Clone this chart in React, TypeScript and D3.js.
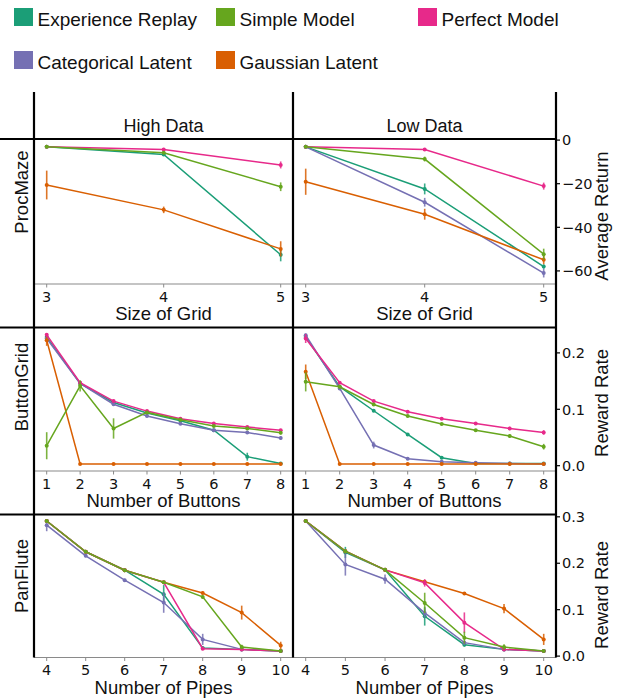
import React from "react";
import * as d3 from "d3";

// Methods (hue order) and their colours
const methods = ["Experience Replay", "Categorical Latent", "Gaussian Latent", "Perfect Model", "Simple Model"];
const methodColors = ["#1b9e77", "#7570b3", "#d95f02", "#e7298a", "#66a61e"];

// Legend layout order (two rows)
const legendRows = [
  ["Experience Replay", "Simple Model", "Perfect Model"],
  ["Categorical Latent", "Gaussian Latent"],
];

// x categories per environment
const gridSizes = [3, 4, 5];
const buttonCounts = [1, 2, 3, 4, 5, 6, 7, 8];
const pipeCounts = [4, 5, 6, 7, 8, 9, 10];

// Tick labels on the right-hand axes
const returnTicks = [0, -20, -40, -60];
const buttonRateTicks = [0, 0.1, 0.2];
const pipeRateTicks = [0, 0.1, 0.2, 0.3];

type Series = { method: string; mean: number[]; err: number[] } | null;

// ProcMaze, average return
const procMazeHigh: Series[] = [
  { method: "Experience Replay", mean: [-3.1, -6.6, -52.6], err: [0.4, 0.7, 3] },
  null,
  { method: "Gaussian Latent", mean: [-20.6, -32.0, -49.9], err: [6.6, 1.5, 3.5] },
  { method: "Perfect Model", mean: [-3.1, -4.3, -11.4], err: [0.4, 0.6, 1.6] },
  { method: "Simple Model", mean: [-3.1, -5.8, -21.4], err: [0.4, 0.7, 2] },
];
const procMazeLow: Series[] = [
  { method: "Experience Replay", mean: [-3.1, -22.4, -58.0], err: [0.4, 2.5, 1] },
  { method: "Categorical Latent", mean: [-3.1, -28.5, -61.0], err: [0.4, 2, 2] },
  { method: "Gaussian Latent", mean: [-19.1, -34.0, -54.9], err: [6, 2.5, 2] },
  { method: "Perfect Model", mean: [-3.1, -4.3, -21.1], err: [0.4, 0.6, 1.6] },
  { method: "Simple Model", mean: [-3.1, -8.7, -52.3], err: [0.4, 1.1, 2.5] },
];

// ButtonGrid, reward rate
const buttonGridHigh: Series[] = [
  { method: "Experience Replay", mean: [0.228, 0.146, 0.112, 0.0933, 0.0797, 0.063, 0.016, 0.004], err: [0.004, 0.002, 0.002, 0.002, 0.002, 0.002, 0.007, 0.001] },
  { method: "Categorical Latent", mean: [0.2255, 0.146, 0.109, 0.088, 0.0744, 0.063, 0.059, 0.049], err: [0.004, 0.002, 0.002, 0.002, 0.002, 0.002, 0.002, 0.003] },
  { method: "Gaussian Latent", mean: [0.2225, 0.003, 0.003, 0.003, 0.003, 0.003, 0.003, 0.003], err: [0.01, 0.001, 0.001, 0.001, 0.001, 0.001, 0.001, 0.001] },
  { method: "Perfect Model", mean: [0.232, 0.147, 0.1145, 0.0968, 0.0832, 0.075, 0.0685, 0.063], err: [0.003, 0.002, 0.002, 0.002, 0.002, 0.002, 0.002, 0.002] },
  { method: "Simple Model", mean: [0.0354, 0.1416, 0.066, 0.0945, 0.0814, 0.0703, 0.066, 0.0584], err: [0.024, 0.01, 0.018, 0.002, 0.002, 0.002, 0.002, 0.003] },
];
const buttonGridLow: Series[] = [
  { method: "Experience Replay", mean: [0.228, 0.14, 0.0974, 0.0555, 0.0142, 0.004, 0.004, 0.004], err: [0.003, 0.003, 0.002, 0.002, 0.002, 0.001, 0.001, 0.001] },
  { method: "Categorical Latent", mean: [0.2313, 0.137, 0.0366, 0.0124, 0.0071, 0.0053, 0.004, 0.003], err: [0.003, 0.003, 0.006, 0.002, 0.001, 0.001, 0.001, 0.001] },
  { method: "Gaussian Latent", mean: [0.1664, 0.003, 0.003, 0.003, 0.003, 0.003, 0.003, 0.003], err: [0.013, 0.001, 0.001, 0.001, 0.001, 0.001, 0.001, 0.001] },
  { method: "Perfect Model", mean: [0.2255, 0.147, 0.1145, 0.0956, 0.0832, 0.075, 0.066, 0.059], err: [0.008, 0.002, 0.002, 0.002, 0.002, 0.002, 0.003, 0.004] },
  { method: "Simple Model", mean: [0.1487, 0.14, 0.1086, 0.088, 0.0738, 0.063, 0.0525, 0.0337], err: [0.017, 0.003, 0.002, 0.002, 0.002, 0.002, 0.003, 0.005] },
];

// PanFlute, reward rate
const panFluteHigh: Series[] = [
  { method: "Experience Replay", mean: [0.291, 0.2247, 0.185, 0.133, 0.0173, 0.0145, 0.0108], err: [0.002, 0.002, 0.002, 0.02, 0.003, 0.002, 0.001] },
  { method: "Categorical Latent", mean: [0.282, 0.216, 0.1635, 0.1153, 0.036, 0.0145, 0.0108], err: [0.013, 0.003, 0.003, 0.022, 0.012, 0.002, 0.001] },
  { method: "Gaussian Latent", mean: [0.291, 0.2247, 0.185, 0.159, 0.136, 0.0937, 0.023], err: [0.002, 0.002, 0.002, 0.002, 0.003, 0.015, 0.008] },
  { method: "Perfect Model", mean: [0.291, 0.2247, 0.185, 0.159, 0.016, 0.014, 0.0108], err: [0.002, 0.002, 0.002, 0.002, 0.003, 0.002, 0.001] },
  { method: "Simple Model", mean: [0.291, 0.2247, 0.185, 0.159, 0.1275, 0.0195, 0.0108], err: [0.002, 0.002, 0.002, 0.002, 0.003, 0.005, 0.001] },
];
const panFluteLow: Series[] = [
  { method: "Experience Replay", mean: [0.291, 0.2233, 0.1858, 0.0857, 0.0246, 0.0145, 0.0108], err: [0.002, 0.012, 0.003, 0.02, 0.004, 0.002, 0.001] },
  { method: "Categorical Latent", mean: [0.291, 0.1974, 0.1657, 0.093, 0.029, 0.0145, 0.0108], err: [0.002, 0.024, 0.01, 0.01, 0.004, 0.002, 0.001] },
  { method: "Gaussian Latent", mean: [0.291, 0.226, 0.1858, 0.16, 0.1347, 0.1023, 0.036], err: [0.002, 0.003, 0.003, 0.003, 0.003, 0.01, 0.012] },
  { method: "Perfect Model", mean: [0.291, 0.226, 0.1858, 0.1577, 0.0721, 0.0145, 0.0108], err: [0.002, 0.003, 0.003, 0.008, 0.022, 0.003, 0.001] },
  { method: "Simple Model", mean: [0.291, 0.226, 0.1858, 0.1145, 0.0397, 0.0195, 0.0108], err: [0.002, 0.003, 0.003, 0.022, 0.013, 0.006, 0.001] },
];

const LABEL_FONT = "'Liberation Sans', Arial, sans-serif";
const TICK_FONT = "'DejaVu Sans', sans-serif";

const colorOf = d3.scaleOrdinal<string, string>().domain(methods).range(methodColors);

// Grid geometry
const colEdges = [34, 293, 556];
const rowTops = [139, 327.5, 514.5];
const rowBottoms = [284, 471, 657.5];
const gridTop = 92;

// Legend geometry
const legendX = [14, 216, 418];
const legendY = [8, 51];

type RowSpec = {
  name: string;
  cats: number[];
  xLabel: string;
  yLabel: string;
  yDomain: [number, number];
  yTicks: number[];
  tickFmt: (v: number) => string;
  panels: Series[][];
  nameY: number;
  yLabelY: number;
};

const rows: RowSpec[] = [
  {
    name: "ProcMaze", cats: gridSizes, xLabel: "Size of Grid", yLabel: "Average Return",
    yDomain: [-66, 0.5], yTicks: returnTicks, tickFmt: (v) => (v < 0 ? "\u2212" + Math.abs(v) : String(v)),
    panels: [procMazeHigh, procMazeLow], nameY: 192, yLabelY: 216,
  },
  {
    name: "ButtonGrid", cats: buttonCounts, xLabel: "Number of Buttons", yLabel: "Reward Rate",
    yDomain: [-0.0094, 0.245], yTicks: buttonRateTicks, tickFmt: d3.format(".1f"),
    panels: [buttonGridHigh, buttonGridLow], nameY: 387, yLabelY: 403,
  },
  {
    name: "PanFlute", cats: pipeCounts, xLabel: "Number of Pipes", yLabel: "Reward Rate",
    yDomain: [-0.003, 0.305], yTicks: pipeRateTicks, tickFmt: d3.format(".1f"),
    panels: [panFluteHigh, panFluteLow], nameY: 576, yLabelY: 595,
  },
];

const columnTitles = ["High Data", "Low Data"];

function Panel({ row, ri, ci }: { row: RowSpec; ri: number; ci: number }) {
  const left = colEdges[ci];
  const right = colEdges[ci + 1];
  const top = rowTops[ri];
  const bottom = rowBottoms[ri];
  const x = d3.scaleLinear()
    .domain([row.cats[0], row.cats[row.cats.length - 1]])
    .range([left + 12.7, right - 12.3]);
  const y = d3.scaleLinear().domain(row.yDomain).range([bottom, top]);
  const line = d3.line<[number, number]>().x((d) => x(d[0])).y((d) => y(d[1]));
  const series = row.panels[ci];
  const cx = (left + right) / 2;
  return (
    <g>
      {/* x axis */}
      <line x1={left} x2={right} y1={bottom} y2={bottom} stroke="#8a8a8a" strokeWidth={1.2} />
      {row.cats.map((c) => (
        <g key={c}>
          <line x1={x(c)} x2={x(c)} y1={bottom} y2={bottom + 3.5} stroke="#8a8a8a" strokeWidth={1} />
          <text x={x(c)} y={bottom + 17.5} textAnchor="middle" fontFamily={TICK_FONT} fontSize={14.5} fill="#111">
            {c}
          </text>
        </g>
      ))}
      <text x={cx} y={bottom + 36} textAnchor="middle" fontFamily={LABEL_FONT} fontSize={18.5} fill="#111">
        {row.xLabel}
      </text>
      {/* series */}
      {series.map((s, si) => {
        if (!s) return null;
        const col = colorOf(s.method);
        const pts: [number, number][] = row.cats.map((c, i) => [c, s.mean[i]]);
        return (
          <g key={si}>
            <path d={line(pts) || ""} fill="none" stroke={col} strokeWidth={1.5} />
            {pts.map((p, i) => (
              <g key={i}>
                <line
                  x1={x(p[0])} x2={x(p[0])}
                  y1={y(p[1] - s.err[i])} y2={y(p[1] + s.err[i])}
                  stroke={col} strokeWidth={1.6} opacity={0.85}
                />
                <circle cx={x(p[0])} cy={y(p[1])} r={2} fill={col} />
              </g>
            ))}
          </g>
        );
      })}
      {/* right-hand y axis on the second column */}
      {ci === 1 &&
        row.yTicks.map((t) => (
          <g key={t}>
            <line x1={right} x2={right + 4} y1={y(t)} y2={y(t)} stroke="#000" strokeWidth={1.2} />
            <text x={right + 6} y={y(t)} dy="0.36em" fontFamily={TICK_FONT} fontSize={14.5} fill="#111">
              {row.tickFmt(t)}
            </text>
          </g>
        ))}
    </g>
  );
}

export default function App() {
  const W = 617;
  const H = 698;
  return (
    <svg
      width={W}
      height={H}
      viewBox={`0 0 ${W} ${H}`}
      style={{ position: "absolute", left: 0, top: 0, background: "#fff" }}
    >
      <rect width={W} height={H} fill="#fff" />
      {/* legend */}
      {legendRows.map((r, ri) =>
        r.map((m, mi) => {
          const lx = legendX[mi];
          const ly = legendY[ri];
          return (
            <g key={m}>
              <rect x={lx} y={ly} width={19} height={18} fill={colorOf(m)} />
              <text x={lx + 23.5} y={ly + 17.5} fontFamily={LABEL_FONT} fontSize={19} fill="#111">
                {m}
              </text>
            </g>
          );
        })
      )}
      {/* column titles */}
      {columnTitles.map((t, ci) => (
        <text
          key={t}
          x={(colEdges[ci] + colEdges[ci + 1]) / 2}
          y={131.5}
          textAnchor="middle"
          fontFamily={LABEL_FONT}
          fontSize={18}
          fill="#111"
        >
          {t}
        </text>
      ))}
      {rows.map((row, ri) => (
        <g key={row.name}>
          {[0, 1].map((ci) => (
            <Panel key={ci} row={row} ri={ri} ci={ci} />
          ))}
          <text
            transform={`translate(28,${row.nameY}) rotate(-90)`}
            textAnchor="middle"
            fontFamily={LABEL_FONT}
            fontSize={18.5}
            fill="#111"
          >
            {row.name}
          </text>
          <text
            transform={`translate(608,${row.yLabelY}) rotate(-90)`}
            textAnchor="middle"
            fontFamily={LABEL_FONT}
            fontSize={18.5}
            fill="#111"
          >
            {row.yLabel}
          </text>
        </g>
      ))}
      {/* grid frame */}
      {rowTops.map((t) => (
        <line key={t} x1={0} x2={colEdges[2]} y1={t} y2={t} stroke="#000" strokeWidth={2} />
      ))}
      {colEdges.map((cx) => (
        <line key={cx} x1={cx} x2={cx} y1={gridTop} y2={rowBottoms[2]} stroke="#000" strokeWidth={2.2} />
      ))}
    </svg>
  );
}
